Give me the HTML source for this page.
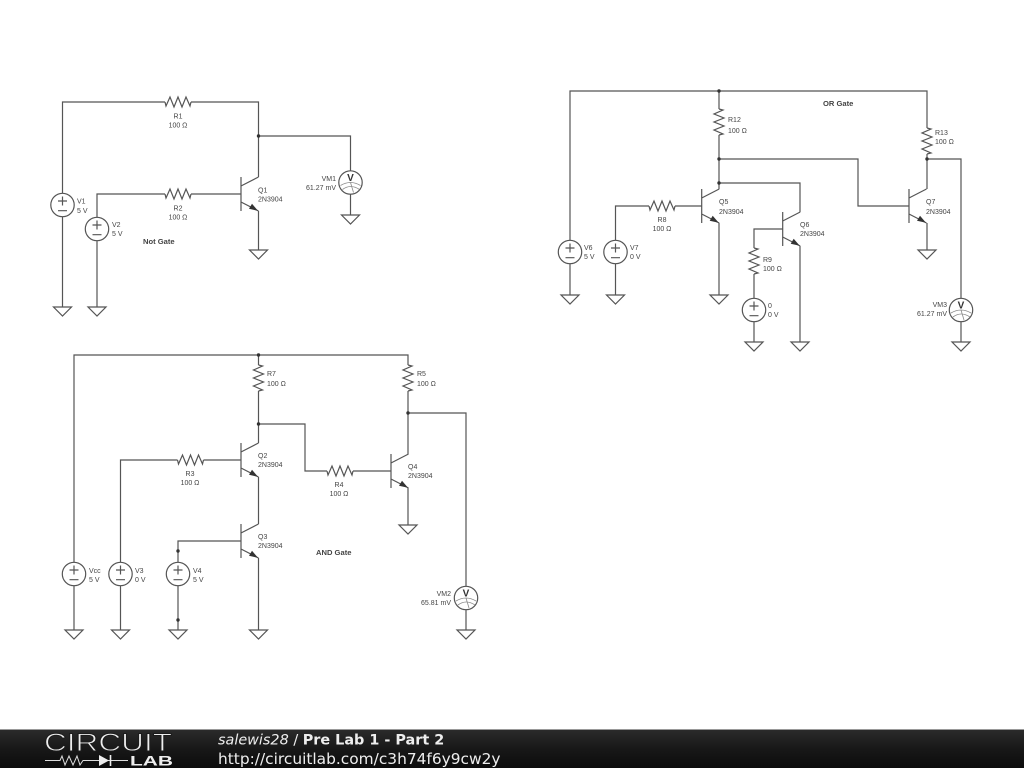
<!DOCTYPE html>
<html><head><meta charset="utf-8"><style>
html,body{margin:0;padding:0;background:#fff;width:1024px;height:768px;overflow:hidden}
svg{display:block}
.w{fill:none;stroke:#555;stroke-width:1.2}
.a{fill:none;stroke:#888;stroke-width:0.8}
.t{font-family:"Liberation Sans",sans-serif;font-size:7px;fill:#444}
.b{font-family:"Liberation Sans",sans-serif;font-size:7.6px;fill:#444;font-weight:bold}
.v{font-family:"Liberation Sans",sans-serif;font-size:10px;fill:#333;font-weight:bold}
.f{font-family:"DejaVu Sans",sans-serif;font-size:14.4px;fill:#eee}
.d{filter:blur(0.3px)}
</style></head><body>
<svg width="1024" height="768" viewBox="0 0 1024 768" xmlns="http://www.w3.org/2000/svg">
<defs>
<linearGradient id="g" x1="0" y1="0" x2="0" y2="1"><stop offset="0" stop-color="#2c2c2c"/><stop offset="0.5" stop-color="#181818"/><stop offset="1" stop-color="#0c0c0c"/></linearGradient>
<g id="gnd"><path class="w" d="M-9 0H9L0 9Z"/></g>
<g id="src"><circle class="w" r="11.7"/><path class="w" d="M-4.5 -4H4.5M0 -8.5V0.5M-4.5 5.7H4.5"/></g>
<g id="vm"><circle class="w" r="11.7"/><path class="a" d="M-10 3Q0 -3 10 3M-8 7Q0 1 9 7M0 0L3 10"/></g>
<g id="rh"><path class="w" d="M-13 0L-12 4L-8 -5L-4 5L0 -5L4 5L8 -5L12 4L13 0"/></g>
<g id="rv"><path class="w" d="M0 -13L4 -12L-5 -8L5 -4L-5 0L5 4L-5 8L4 12L0 13"/></g>
<g id="q"><path class="w" d="M0 -17V17M0 -8L17.5 -17M0 8L17.5 17"/><path d="M17 16.8L8 14.8L11 9.8Z" fill="#333"/></g>
</defs>
<rect width="1024" height="768" fill="#fff"/>
<g class="d">
<!-- NOT gate -->
<path class="w" d="M62.5 193V102H165M191 102H258.5V177M258.5 136H350.5V171M350.5 194V215M258.5 211V250M62.5 217V307M97 217V194H165M191 194H241M97 241V307"/>
<use href="#rh" x="178" y="102"/><use href="#rh" x="178" y="194"/>
<use href="#q" x="241" y="194"/>
<use href="#src" x="62.5" y="205"/><use href="#src" x="97" y="229"/>
<use href="#vm" x="350.5" y="182.5"/>
<use href="#gnd" x="62.5" y="307"/><use href="#gnd" x="97" y="307"/><use href="#gnd" x="258.5" y="250"/><use href="#gnd" x="350.5" y="215"/>
<circle cx="258.5" cy="136" r="1.7" fill="#333"/>
<text class="t" x="178" y="118.5" text-anchor="middle">R1</text><text class="t" x="178" y="127.5" text-anchor="middle">100 Ω</text>
<text class="t" x="178" y="210.5" text-anchor="middle">R2</text><text class="t" x="178" y="219.5" text-anchor="middle">100 Ω</text>
<text class="t" x="258" y="192.5">Q1</text><text class="t" x="258" y="201.5">2N3904</text>
<text class="t" x="77" y="203.5">V1</text><text class="t" x="77" y="213">5 V</text>
<text class="t" x="112" y="227">V2</text><text class="t" x="112" y="236">5 V</text>
<text class="b" x="143" y="244">Not Gate</text>
<text class="t" x="336" y="181" text-anchor="end">VM1</text><text class="t" x="336" y="190" text-anchor="end">61.27 mV</text>
<text class="v" x="350.5" y="181" text-anchor="middle">V</text>

<!-- AND gate -->
<path class="w" d="M74 562V355H408V365M258.5 355V365M258.5 391V443M258.5 424H305V471H327M353 471H391M408 391V454M408 413H466V586M466 610V630M408 488V525M74 586V630M120.5 562V460H177.5M203.5 460H241M258.5 477V524M258.5 558V630M120.5 586V630M178 562V541H241M178 586V630"/>
<use href="#rv" x="258.5" y="378"/><use href="#rv" x="408" y="378"/>
<use href="#rh" x="190.5" y="460"/><use href="#rh" x="340" y="471"/>
<use href="#q" x="241" y="460"/><use href="#q" x="241" y="541"/><use href="#q" x="391" y="471"/>
<use href="#src" x="74" y="574"/><use href="#src" x="120.5" y="574"/><use href="#src" x="178" y="574"/>
<use href="#vm" x="466" y="598"/>
<use href="#gnd" x="74" y="630"/><use href="#gnd" x="120.5" y="630"/><use href="#gnd" x="178" y="630"/><use href="#gnd" x="258.5" y="630"/><use href="#gnd" x="408" y="525"/><use href="#gnd" x="466" y="630"/>
<circle cx="258.5" cy="355" r="1.7" fill="#333"/><circle cx="258.5" cy="424" r="1.7" fill="#333"/><circle cx="408" cy="413" r="1.7" fill="#333"/><circle cx="178" cy="551" r="1.7" fill="#333"/><circle cx="178" cy="620" r="1.7" fill="#333"/>
<text class="t" x="267" y="376">R7</text><text class="t" x="267" y="386">100 Ω</text>
<text class="t" x="417" y="376">R5</text><text class="t" x="417" y="386">100 Ω</text>
<text class="t" x="258" y="458">Q2</text><text class="t" x="258" y="467">2N3904</text>
<text class="t" x="258" y="539">Q3</text><text class="t" x="258" y="548">2N3904</text>
<text class="t" x="408" y="469">Q4</text><text class="t" x="408" y="478">2N3904</text>
<text class="t" x="190" y="476" text-anchor="middle">R3</text><text class="t" x="190" y="485" text-anchor="middle">100 Ω</text>
<text class="t" x="339" y="487" text-anchor="middle">R4</text><text class="t" x="339" y="496" text-anchor="middle">100 Ω</text>
<text class="t" x="89" y="573">Vcc</text><text class="t" x="89" y="582">5 V</text>
<text class="t" x="135" y="573">V3</text><text class="t" x="135" y="582">0 V</text>
<text class="t" x="193" y="573">V4</text><text class="t" x="193" y="582">5 V</text>
<text class="b" x="316" y="555">AND Gate</text>
<text class="t" x="451" y="596" text-anchor="end">VM2</text><text class="t" x="451" y="605" text-anchor="end">65.81 mV</text>
<text class="v" x="466" y="596.5" text-anchor="middle">V</text>

<!-- OR gate -->
<path class="w" d="M570 240V91H927V128M719 91V109M719 135V189M719 159H858V206H909M927 154V189M927 159H961V298M961 322V342M927 223V250M719 183H800V212M719 223V295M570 264V295M615.5 240V206H649M675 206H702M615.5 264V295M783 229H754V248M754 274V298M754 322V342M800 246V342"/>
<use href="#rv" x="719" y="122"/><use href="#rv" x="927" y="141"/><use href="#rv" x="754" y="261"/>
<use href="#rh" x="662" y="206"/>
<use href="#q" x="701.7" y="206"/><use href="#q" x="782.7" y="229"/><use href="#q" x="909" y="206"/>
<use href="#src" x="570" y="252"/><use href="#src" x="615.5" y="252"/><use href="#src" x="754" y="310"/>
<use href="#vm" x="961" y="310"/>
<use href="#gnd" x="570" y="295"/><use href="#gnd" x="615.5" y="295"/><use href="#gnd" x="719" y="295"/><use href="#gnd" x="754" y="342"/><use href="#gnd" x="800" y="342"/><use href="#gnd" x="927" y="250"/><use href="#gnd" x="961" y="342"/>
<circle cx="719" cy="91" r="1.7" fill="#333"/><circle cx="719" cy="159" r="1.7" fill="#333"/><circle cx="719" cy="183" r="1.7" fill="#333"/><circle cx="927" cy="159" r="1.7" fill="#333"/>
<text class="b" x="823" y="106">OR Gate</text>
<text class="t" x="728" y="122">R12</text><text class="t" x="728" y="133">100 Ω</text>
<text class="t" x="935" y="135">R13</text><text class="t" x="935" y="144">100 Ω</text>
<text class="t" x="719" y="204">Q5</text><text class="t" x="719" y="214">2N3904</text>
<text class="t" x="800" y="227">Q6</text><text class="t" x="800" y="236">2N3904</text>
<text class="t" x="926" y="204">Q7</text><text class="t" x="926" y="214">2N3904</text>
<text class="t" x="662" y="222" text-anchor="middle">R8</text><text class="t" x="662" y="231" text-anchor="middle">100 Ω</text>
<text class="t" x="763" y="262">R9</text><text class="t" x="763" y="271">100 Ω</text>
<text class="t" x="584" y="250">V6</text><text class="t" x="584" y="259">5 V</text>
<text class="t" x="630" y="250">V7</text><text class="t" x="630" y="259">0 V</text>
<text class="t" x="768" y="308">0</text><text class="t" x="768" y="317">0 V</text>
<text class="t" x="947" y="307" text-anchor="end">VM3</text><text class="t" x="947" y="316" text-anchor="end">61.27 mV</text>
<text class="v" x="961" y="308.5" text-anchor="middle">V</text>
</g>

<!-- footer -->
<rect x="0" y="729" width="1024" height="39" fill="url(#g)"/>
<rect x="0" y="729" width="1024" height="1" fill="#999"/>
<text x="44" y="751" font-family="'Liberation Sans',sans-serif" font-size="25" fill="#eee" stroke="#1c1c1c" stroke-width="0.9" textLength="128" lengthAdjust="spacingAndGlyphs">CIRCUIT</text>
<path d="M45 760.5H60L62 756L65 765L69 756L73 765L77 756L80 765L83 760.5H128" fill="none" stroke="#ddd" stroke-width="1"/>
<path d="M99 755V766L109 760.5Z" fill="#eee"/><path d="M110.5 755V766" stroke="#eee" stroke-width="1.6"/>
<text x="130" y="765.5" font-family="'Liberation Sans',sans-serif" font-size="14" font-weight="bold" fill="#eee" textLength="43" lengthAdjust="spacingAndGlyphs">LAB</text>
<text class="f" x="218" y="744.5"><tspan font-style="italic">salewis28</tspan> / <tspan font-weight="bold">Pre Lab 1 - Part 2</tspan></text>
<text class="f" x="218" y="764" style="font-size:15.4px">http://circuitlab.com/c3h74f6y9cw2y</text>
</svg>
</body></html>
